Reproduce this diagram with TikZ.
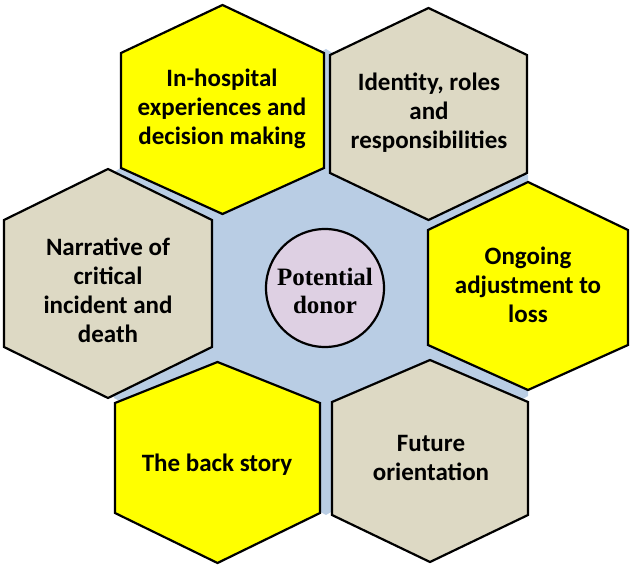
\documentclass[tikz,border=0pt]{standalone}
\usepackage{fontspec}
\setmainfont{Carlito}
\newfontfamily\donorfont{Liberation Serif}
\definecolor{hexyellow}{HTML}{FFFF00}
\definecolor{hextan}{HTML}{DDD9C4}
\definecolor{hexblue}{HTML}{B9CDE4}
\definecolor{hexlav}{HTML}{DED0E3}
\tikzset{
  hexline/.style={draw=black, line width=2.2pt, line join=miter},
  hextext/.style={align=center, font=\fontsize{25}{29}\selectfont\bfseries, text=black, inner sep=0pt},
  centretext/.style={align=center, font=\fontsize{25}{28}\selectfont\donorfont\bfseries, text=black, inner sep=0pt},
}
% #1 left x, #2 right x, #3 top y, #4 upper side y, #5 lower side y, #6 bottom y, #7 fill
\newcommand{\hexshape}[7]{%
  \filldraw[hexline, fill=#7] ({(#1+#2)/2},#3) -- (#2,#4) -- (#2,#5) -- ({(#1+#2)/2},#6) -- (#1,#5) -- (#1,#4) -- cycle;}
\begin{document}
\begin{tikzpicture}[x=1pt, y=-1pt]
\useasboundingbox (0,0) rectangle (632,569);
% blue background hexagon
\fill[hexblue] (326,49) -- (528,175) -- (528,396) -- (326,515) -- (114,398) -- (114,172) -- cycle;
% outer hexagons
\hexshape{121}{324}{5}{53}{168}{214}{hexyellow}
\hexshape{330}{527}{8}{55}{173}{220}{hextan}
\hexshape{4}{212}{169}{220}{347}{398}{hextan}
\hexshape{428}{628}{182}{230}{345}{390}{hexyellow}
\hexshape{115}{320}{362}{403}{513}{563}{hexyellow}
\hexshape{332}{528}{360}{402}{515}{562}{hextan}
% centre
\node[circle, draw=black, line width=2.2pt, fill=hexlav, minimum size=118pt, inner sep=0pt] (donor) at (325,288) {};
\node[centretext] (donortext) at (325,291) {Potential\\donor};
% labels
\node[hextext] (hospital) at (222,109) {In-hospital\\experiences and\\decision making};
\node[hextext] (identity) at (429,113) {Identity, roles\\and\\responsibilities};
\node[hextext] (narrative) at (108,290) {Narrative of\\critical\\incident and\\death};
\node[hextext] (ongoing) at (528,285) {Ongoing\\adjustment to\\loss};
\node[hextext] (backstory) at (217,465) {The back story};
\node[hextext] (future) at (431,458) {Future\\orientation};
\end{tikzpicture}
\end{document}
